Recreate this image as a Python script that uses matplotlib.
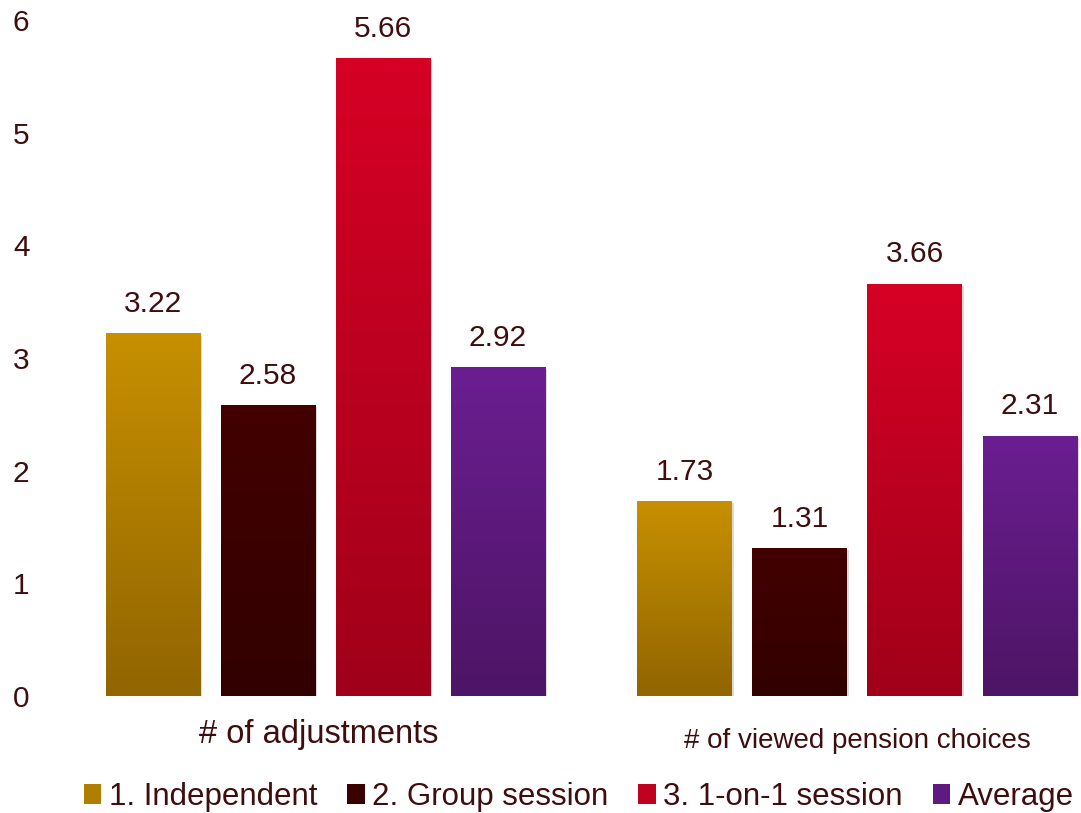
import numpy as np
import matplotlib
matplotlib.use("Agg")
import matplotlib.pyplot as plt
import matplotlib.patheffects as pe
from matplotlib.colors import to_rgb
from matplotlib.patches import Patch

plt.rcParams['font.family'] = ['Liberation Sans', 'DejaVu Sans']

# data
measures = ["# of adjustments", "# of viewed pension choices"]
groups = ["1. Independent", "2. Group session", "3. 1-on-1 session", "Average"]
independent = [3.22, 1.73]
group_session = [2.58, 1.31]
one_on_one = [5.66, 3.66]
average = [2.92, 2.31]
series = [independent, group_session, one_on_one, average]

# gradient colours, top -> bottom
tops = ["#C79000", "#430000", "#D60025", "#6B1E91"]
bottoms = ["#916500", "#320000", "#A0001A", "#4D1565"]
mids = ["#B07E00", "#3A0000", "#C0001F", "#5E1A7E"]

txt = "#3F0D0D"

fig = plt.figure(figsize=(10.81, 8.13), dpi=100)
ax = fig.add_axes([60 / 1081, 117 / 813, 1 - 60 / 1081, (696 - 20) / 813])

x = np.arange(len(measures))
width = 0.177
step = 0.2164

for i, vals in enumerate(series):
    pos = x + (i - 1.5) * step
    bars = ax.bar(pos, vals, width, color="white", zorder=2,
                  path_effects=[pe.SimplePatchShadow(offset=(1.5, -1.5), shadow_rgbFace="#888888", alpha=0.3),
                                pe.Normal()])
    c_top = np.array(to_rgb(tops[i]))
    c_bot = np.array(to_rgb(bottoms[i]))
    t = np.linspace(0, 1, 256)[:, None]
    grad = (c_top * (1 - t) + c_bot * t)[:, None, :]
    for b, v in zip(bars, vals):
        x0 = b.get_x()
        im = ax.imshow(grad, extent=[x0, x0 + width, 0, v], aspect="auto",
                       interpolation="bilinear", zorder=3)
        im.set_clip_path(b)
        ax.annotate(f"{v:.2f}", (x0 + width / 2, v), xytext=(0, 11),
                    textcoords="offset points", ha="center", va="bottom",
                    fontsize=21.5, color=txt)

ax.set_xlim(-0.4995, 1.4214)
ax.set_ylim(0, 6)
ax.set_yticks(range(7))
ax.tick_params(axis="y", length=0, pad=22, labelsize=21.5, labelcolor=txt)
ax.set_xticks([])
for s in ax.spines.values():
    s.set_visible(False)

# category labels under each group
ax.text(x[0] - 0.012, -0.34, measures[0], ha="center", va="center", fontsize=23.5, color=txt)
ax.text(x[1], -0.40, measures[1], ha="center", va="center", fontsize=20, color=txt)

handles = [Patch(facecolor=c, edgecolor="none") for c in mids]
fig.legend(handles, groups, loc="center", bbox_to_anchor=(579 / 1081, 1 - 797 / 813),
           ncol=4, frameon=False, fontsize=22.5, labelcolor=txt,
           handlelength=0.55, handleheight=0.6, handletextpad=0.25, columnspacing=0.95)

fig.savefig("out.png", dpi=100)
